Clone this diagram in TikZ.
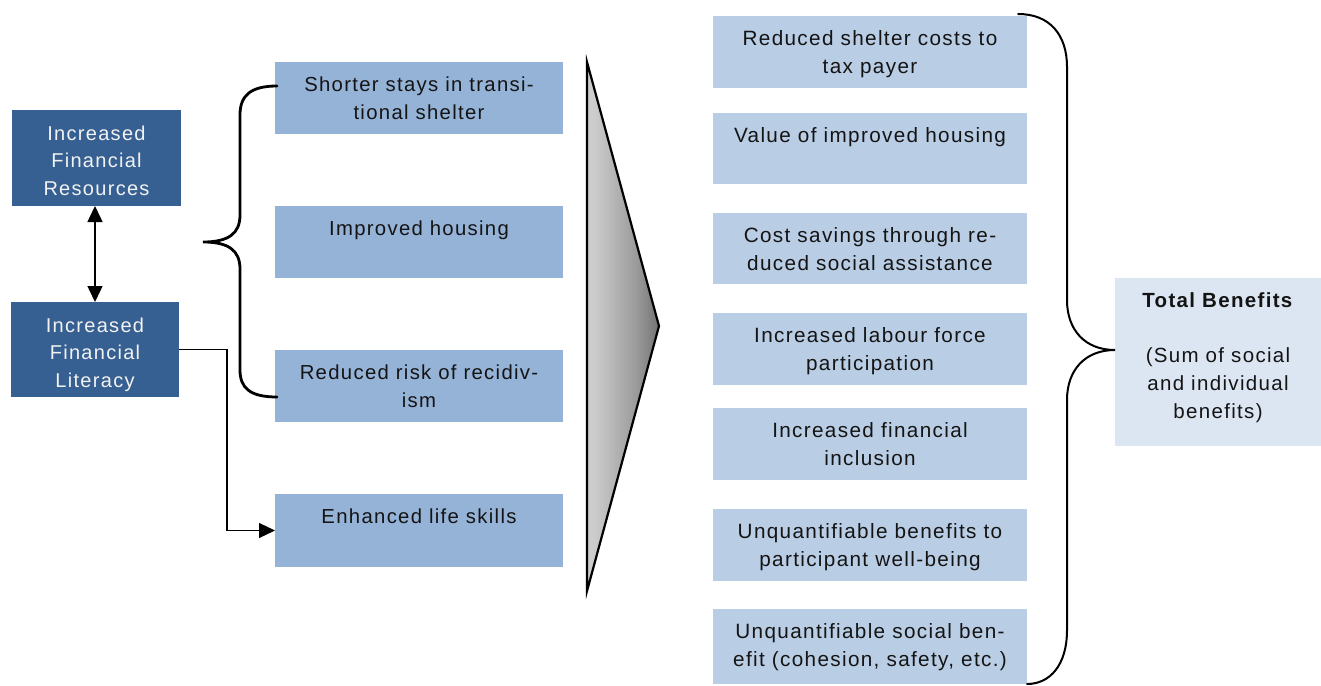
\documentclass[tikz,border=0pt]{standalone}
\usepackage{fontspec}
\setmainfont{Liberation Sans}[LetterSpace=6.5]
\usetikzlibrary{arrows.meta}
\definecolor{darkc}{HTML}{376092}
\definecolor{midc}{HTML}{95B3D7}
\definecolor{rightc}{HTML}{B9CDE5}
\definecolor{totc}{HTML}{DCE6F2}
\definecolor{txtc}{HTML}{141414}
\definecolor{wtxt}{HTML}{F2F2F2}
\definecolor{g0}{rgb}{0.85,0.85,0.85}
\definecolor{g1}{rgb}{0.80,0.80,0.80}
\definecolor{g2}{rgb}{0.60,0.60,0.60}
\definecolor{g3}{rgb}{0.40,0.40,0.40}
\definecolor{g4}{rgb}{0.22,0.22,0.22}
\pgfdeclarehorizontalshading{trishade}{100bp}{color(0bp)=(g0); color(30bp)=(g1); color(60bp)=(g2); color(80bp)=(g3); color(100bp)=(g4)}
\newcommand{\bxt}[4]{\parbox[c][#2][t]{#1}{\centering\rule{0pt}{#3}#4}}
\tikzset{
  boxbase/.style={inner sep=0pt, outer sep=0pt, anchor=north west},
  darkbox/.style={boxbase, fill=darkc, text=wtxt, font=\fontsize{20}{27.5}\selectfont},
  midbox/.style={boxbase, fill=midc, text=txtc, font=\fontsize{20.3}{28}\selectfont},
  rightbox/.style={boxbase, fill=rightc, text=txtc, font=\fontsize{20.7}{28}\selectfont},
  totbox/.style={boxbase, fill=totc, text=txtc, font=\fontsize{20.5}{28}\selectfont},
  conn/.style={line width=1.5pt, draw=black},
  bigtip/.tip={Triangle[length=16pt,width=15pt]},
  brace/.style={draw=black, line cap=round},
}
\begin{document}
\begin{tikzpicture}[x=1pt,y=-1pt]
\useasboundingbox (0,0) rectangle (1321,685);
% left dark boxes
\node[darkbox] (res) at (12,110) {\bxt{169pt}{96pt}{30pt}{Increased\\Financial\\Resources}};
\node[darkbox] (lit) at (11,302) {\bxt{168pt}{95pt}{30pt}{Increased\\Financial\\Literacy}};
% middle boxes
\node[midbox] (m1) at (275,62) {\bxt{288pt}{72pt}{29.5pt}{Shorter stays in transi-\\tional shelter}};
\node[midbox] (m2) at (275,206) {\bxt{288pt}{72pt}{29.5pt}{Improved housing}};
\node[midbox] (m3) at (275,350) {\bxt{288pt}{72pt}{29.5pt}{Reduced risk of recidiv-\\ism}};
\node[midbox] (m4) at (275,494) {\bxt{288pt}{73pt}{29.5pt}{Enhanced life skills}};
% right boxes
\node[rightbox] (r1) at (713,16) {\bxt{314pt}{72pt}{29.5pt}{Reduced shelter costs to\\tax payer}};
\node[rightbox] (r2) at (713,113) {\bxt{314pt}{71pt}{29.5pt}{Value of improved housing}};
\node[rightbox] (r3) at (713,213) {\bxt{314pt}{71pt}{29.5pt}{Cost savings through re-\\duced social assistance}};
\node[rightbox] (r4) at (713,313) {\bxt{314pt}{72pt}{29.5pt}{Increased labour force\\participation}};
\node[rightbox] (r5) at (713,408) {\bxt{314pt}{72pt}{29.5pt}{Increased financial\\inclusion}};
\node[rightbox] (r6) at (713,509) {\bxt{314pt}{72pt}{29.5pt}{Unquantifiable benefits to\\participant well-being}};
\node[rightbox] (r7) at (713,609) {\bxt{314pt}{75pt}{29.5pt}{Unquantifiable social ben-\\efit (cohesion, safety, etc.)}};
% total box
\node[totbox] (tot) at (1115,278) {\bxt{206pt}{168pt}{29pt}{\textbf{Total Benefits}\\[27pt](Sum of social\\and individual\\benefits)}};
% connectors
\draw[conn, bigtip-bigtip] (res.south -| 95,0) -- (lit.north -| 95,0);
\draw[conn, line width=1.2pt, -bigtip] (lit.east) -- ++(48,0) |- (m4.west);
% left brace
\draw[brace, line width=2.8pt] (277,86) .. controls (250,86) and (240,96) .. (240,115)
  -- (240,215) .. controls (240,234) and (228,242) .. (203,242)
  .. controls (228,242) and (240,250) .. (240,269)
  -- (240,370) .. controls (240,388) and (250,397) .. (277,397);
% triangle
\shade[shading=trishade] (587,62) -- (659,326) -- (587,591) -- cycle;
\draw[line width=2.2pt, line join=miter] (587,62) -- (659,326) -- (587,591) -- cycle;
% right brace
\draw[brace, line width=2pt] (1018,14) .. controls (1050,14) and (1067,35) .. (1067,67)
  -- (1067,300) .. controls (1067,330) and (1085,350) .. (1115,350)
  .. controls (1085,350) and (1067,370) .. (1067,400)
  -- (1067,630) .. controls (1067,665) and (1050,684) .. (1027,684);
\end{tikzpicture}
\end{document}
